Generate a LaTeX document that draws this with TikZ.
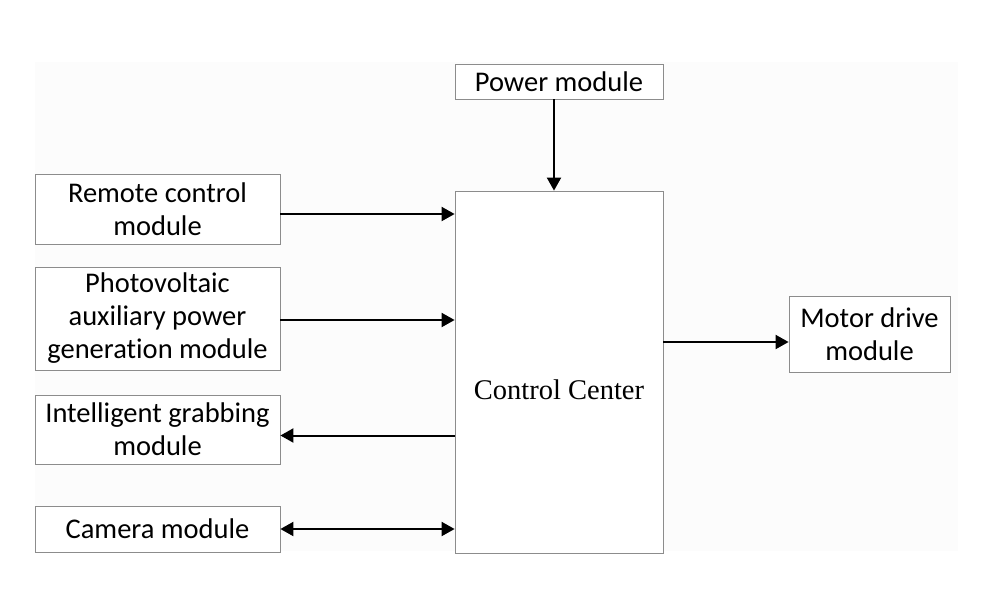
\documentclass[tikz,border=0pt]{standalone}
\usepackage{fontspec}
\setmainfont{Carlito}[RawFeature=-liga]
\newfontfamily\ccfont{Liberation Serif}
\usetikzlibrary{arrows.meta}
\begin{document}
\begin{tikzpicture}[x=1pt,y=-1pt,
  box/.style={draw=black!45, line width=0.8pt, fill=white, inner sep=1pt,
    align=center, font=\fontsize{28.5}{33}\selectfont},
  arr/.style={line width=2pt, -{Triangle[length=13pt,width=14pt]}},
  darr/.style={line width=2pt, {Triangle[length=13pt,width=14pt]}-{Triangle[length=13pt,width=14pt]}}]
\useasboundingbox (0,0) rectangle (985,598);
\fill[black!1] (35,62) rectangle (958,551);
\node[box, minimum width=208pt, minimum height=35pt] (power) at (559,81.5) {Power module};
\node[box, minimum width=208pt, minimum height=362pt] (cc) at (559,372) {};
\node[font=\ccfont\fontsize{28.5}{33}\selectfont, inner sep=0pt] (cctext) at ([yshift=-18pt]cc.center) {Control Center};
\node[box, minimum width=245pt, minimum height=70pt] (remote) at (157.5,209) {Remote control\\module};
\node[box, minimum width=245pt, minimum height=103pt] (pv) at (157.5,318.5) {Photovoltaic\\auxiliary power\\generation module};
\node[box, minimum width=245pt, minimum height=69pt] (grab) at (157.5,429.5) {Intelligent grabbing\\module};
\node[box, minimum width=245pt, minimum height=46pt] (cam) at (157.5,529) {Camera module};
\node[box, minimum width=161pt, minimum height=76pt] (motor) at (869.5,334) {Motor drive\\module};
\draw[arr] ([xshift=-5pt]power.south) coordinate (p1) -- (p1 |- cc.north);
\draw[arr] ([yshift=-5pt]remote.east) coordinate (r1) -- (r1 -| cc.west);
\draw[arr] ([yshift=-1.5pt]pv.east) coordinate (v1) -- (v1 -| cc.west);
\draw[arr] ([yshift=-6pt]grab.east -| cc.west) coordinate (g1) -- (g1 -| grab.east);
\draw[darr] (cam.east) -- (cam.east -| cc.west);
\draw[arr] ([yshift=30pt]cc.east) coordinate (m1) -- (m1 -| motor.west);
\end{tikzpicture}
\end{document}
